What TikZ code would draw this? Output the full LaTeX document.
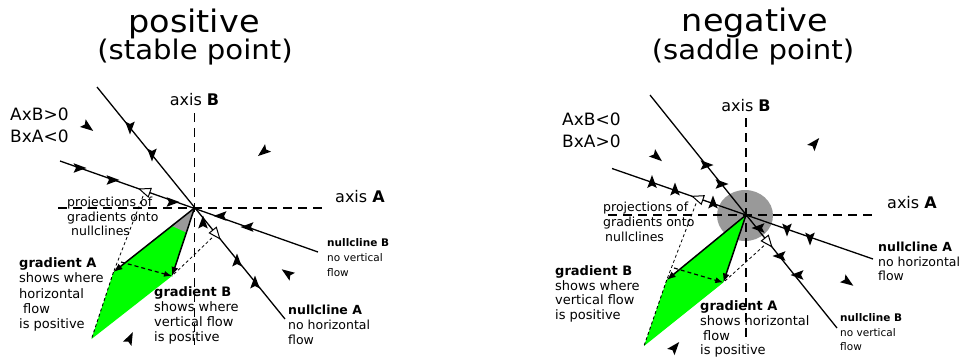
\documentclass[tikz,border=0pt]{standalone}
\usepackage{fontspec}
\setmainfont{DejaVu Sans}
\newfontfamily\headfont{DejaVu Sans}[FakeStretch=1.08]
\usetikzlibrary{arrows.meta}
\definecolor{wedgegray}{RGB}{153,153,153}
\definecolor{gradgreen}{RGB}{0,255,0}

\begin{document}
\begin{tikzpicture}[x=1pt,y=-1pt,
  nullcline/.style={line width=1.3pt},
  axisline/.style={line width=1.6pt, dash pattern=on 9pt off 6pt},
  projline/.style={line width=0.8pt, dash pattern=on 3pt off 2.5pt},
  diffline/.style={line width=1.2pt, dash pattern=on 4pt off 3pt, -{Latex[length=8pt,width=6pt]}},
  gradline/.style={line width=1.5pt, -{Latex[length=9pt,width=7pt]}},
  edgeline/.style={line width=0.9pt, dash pattern=on 3pt off 2.5pt},
  titletext/.style={anchor=base, inner sep=0pt, font={\headfont\fontsize{31}{34}\selectfont}},
  subtitletext/.style={anchor=base, inner sep=0pt, font={\headfont\fontsize{27}{30}\selectfont}},
  signtext/.style={anchor=north west, inner sep=0pt, align=left, font={\fontsize{17}{21.7}\selectfont}},
  axistext/.style={inner sep=0pt, font={\fontsize{16}{18}\selectfont}},
  notetext/.style={anchor=north west, inner sep=0pt, align=left},
  flowtip/.pic={\fill (6.5,0) -- (-6.5,4.8) -- (-4,0) -- (-6.5,-4.8) -- cycle;},
  opentip/.pic={\draw[line width=1pt, fill=white, line join=miter] (6,0) -- (-5,4.5) -- (-5,-4.5) -- cycle;},
]
% canvas
\fill[white] (0,0) rectangle (966,362);
\path[use as bounding box] (0,0) rectangle (966,362);

% ===================== stable point =====================
\coordinate (cL) at (194.5,208);
\coordinate (gAL) at (113.5,272);
\coordinate (gBL) at (172,276);
\coordinate (sumL) at (91.5,339);
\coordinate (wL1) at (171.8,225.9);
\coordinate (wL2) at (186.4,232.5);
\coordinate (axBLt) at (194.5,113);
\coordinate (axBLb) at (194.5,345);
\coordinate (axALl) at (58,208);
\coordinate (axALr) at (325,208);
\coordinate (nAL1) at (97,87);
\coordinate (nAL2) at (285,319);
\coordinate (nBL1) at (60,161);
\coordinate (nBL2) at (318,252);
\coordinate (fL1) at (145,191);
\coordinate (fL2) at (216,234);
\coordinate (qL) at (121,262);

\fill[gradgreen] (cL) -- (gAL) -- (sumL) -- (gBL) -- cycle;
\fill[wedgegray] (cL) -- (wL1) -- (wL2) -- cycle;
\draw[edgeline] (gAL) -- (sumL);
\draw[axisline] (axBLt) -- (axBLb);
\draw[axisline] (axALl) -- (axALr);
\draw[nullcline] (nAL1) -- (nAL2);
\draw[nullcline] (nBL1) -- (nBL2);
\draw[projline] (fL1) -- (gAL);
\draw[projline] (fL2) -- (gBL);
\draw[diffline] (qL) -- (gBL);
\draw[gradline] (cL) -- (gAL);
\draw[gradline] (cL) -- (gBL);

% flow markers on the nullclines
\pic[rotate=-90] at (130,128) {flowtip};
\pic[rotate=-90] at (152,155) {flowtip};
\pic[rotate=90] at (203,222) {flowtip};
\pic[rotate=90] at (237,260) {flowtip};
\pic[rotate=90] at (255,282) {flowtip};
\pic[rotate=0] at (80,168) {flowtip};
\pic[rotate=0] at (113,180) {flowtip};
\pic[rotate=0] at (173,202) {flowtip};
\pic[rotate=180] at (220,216) {flowtip};
\pic[rotate=180] at (247,227) {flowtip};
\pic[rotate=160.6] at (fL1) {opentip};
\pic[rotate=-51] at (fL2) {opentip};
% flow markers in the plane
\pic[rotate=-37] at (88,127) {flowtip};
\pic[rotate=-141] at (263,152) {flowtip};
\pic[rotate=145] at (287,273) {flowtip};
\pic[rotate=64] at (130,338) {flowtip};

\node[titletext] (posT) at (194,32) {positive};
\node[subtitletext] (posS) at (195,59) {(stable point)};
\node[signtext] (signL) at (10,108) {AxB>0\\BxA<0};
\node[axistext, anchor=base] (axBL) at (194.5,105) {axis \textbf{B}};
\node[axistext, anchor=base west] (axAL) at (335,202) {axis \textbf{A}};
\node[notetext, font={\fontsize{12.5}{14.5}\selectfont}] (projL) at (67,197)
  {projections of\\gradients onto\\\hspace*{4pt}nullclines};
\node[notetext, font={\fontsize{13}{15.2}\selectfont}] (gradAL) at (19,257.6)
  {\textbf{gradient A}\\shows where\\horizontal\\\hspace*{4pt}flow\\is positive};
\node[notetext, font={\fontsize{13}{15}\selectfont}] (gradBL) at (154,286.6)
  {\textbf{gradient B}\\shows where\\vertical flow\\is positive};
\node[notetext, font={\fontsize{10.5}{15}\selectfont}] (ncBL) at (327,238.8)
  {\textbf{nullcline B}\\no vertical\\flow};
\node[notetext, font={\fontsize{12.5}{15}\selectfont}] (ncAL) at (288,304.9)
  {\textbf{nullcline A}\\no horizontal\\flow};

% ===================== saddle point =====================
\coordinate (cR) at (746,215);
\coordinate (gBR) at (666.7,280);
\coordinate (gAR) at (723.3,282.5);
\coordinate (sumR) at (644,346);
\coordinate (axBRt) at (746,118);
\coordinate (axBRb) at (746,343);
\coordinate (axARl) at (608,215);
\coordinate (axARr) at (877,215);
\coordinate (nBR1) at (650,95);
\coordinate (nBR2) at (837,328);
\coordinate (nAR1) at (612,168.5);
\coordinate (nAR2) at (873,259);
\coordinate (fR1) at (698,198.3);
\coordinate (fR2) at (768,242);
\coordinate (qR) at (674,268);

\fill[wedgegray] (745,215.5) ellipse [x radius=28, y radius=25.5];
\fill[gradgreen] (cR) -- (gBR) -- (sumR) -- (gAR) -- cycle;
\draw[edgeline] (gBR) -- (sumR);
\draw[axisline] (axBRt) -- (axBRb);
\draw[axisline] (axARl) -- (axARr);
\draw[nullcline] (nBR1) -- (nBR2);
\draw[nullcline] (nAR1) -- (nAR2);
\draw[projline] (fR1) -- (gBR);
\draw[projline] (fR2) -- (gAR);
\draw[diffline] (qR) -- (gAR);
\draw[gradline] (cR) -- (gBR);
\draw[gradline] (cR) -- (gAR);

% flow markers on the nullclines
\pic[rotate=90] at (652,181.5) {flowtip};
\pic[rotate=90] at (675,189) {flowtip};
\pic[rotate=90] at (713,202) {flowtip};
\pic[rotate=-90] at (787,230) {flowtip};
\pic[rotate=-90] at (810,239) {flowtip};
\pic[rotate=0] at (707,165) {flowtip};
\pic[rotate=0] at (722,184) {flowtip};
\pic[rotate=180] at (758,228) {flowtip};
\pic[rotate=180] at (779,256) {flowtip};
\pic[rotate=180] at (797,275) {flowtip};
\pic[rotate=160.9] at (fR1) {opentip};
\pic[rotate=-51.3] at (fR2) {opentip};
% flow markers in the plane
\pic[rotate=-40] at (657,157) {flowtip};
\pic[rotate=50] at (815,143) {flowtip};
\pic[rotate=-35] at (848,282) {flowtip};
\pic[rotate=50] at (675,347) {flowtip};

\node[titletext] (negT) at (755,31) {negative};
\node[subtitletext] (negS) at (753,59) {(saddle point)};
\node[signtext] (signR) at (562,113) {AxB<0\\BxA>0};
\node[axistext, anchor=base] (axBR) at (746,111) {axis \textbf{B}};
\node[axistext, anchor=base west] (axAR) at (887,208) {axis \textbf{A}};
\node[notetext, font={\fontsize{12.5}{15}\selectfont}] (projR) at (603,202)
  {projections of\\gradients onto\\\hspace*{2pt}nullclines};
\node[notetext, font={\fontsize{13}{14.5}\selectfont}] (gradBR) at (555,265.6)
  {\textbf{gradient B}\\shows where\\vertical flow\\is positive};
\node[notetext, font={\fontsize{13}{14.7}\selectfont}] (gradAR) at (700,300.6)
  {\textbf{gradient A}\\shows horizontal\\\hspace*{3pt}flow\\is positive};
\node[notetext, font={\fontsize{12.5}{14.5}\selectfont}] (ncAR) at (878,241.9)
  {\textbf{nullcline A}\\no horizontal\\flow};
\node[notetext, font={\fontsize{10.5}{14.5}\selectfont}] (ncBR) at (840,313.8)
  {\textbf{nullcline B}\\no vertical\\flow};
\end{tikzpicture}
\end{document}
